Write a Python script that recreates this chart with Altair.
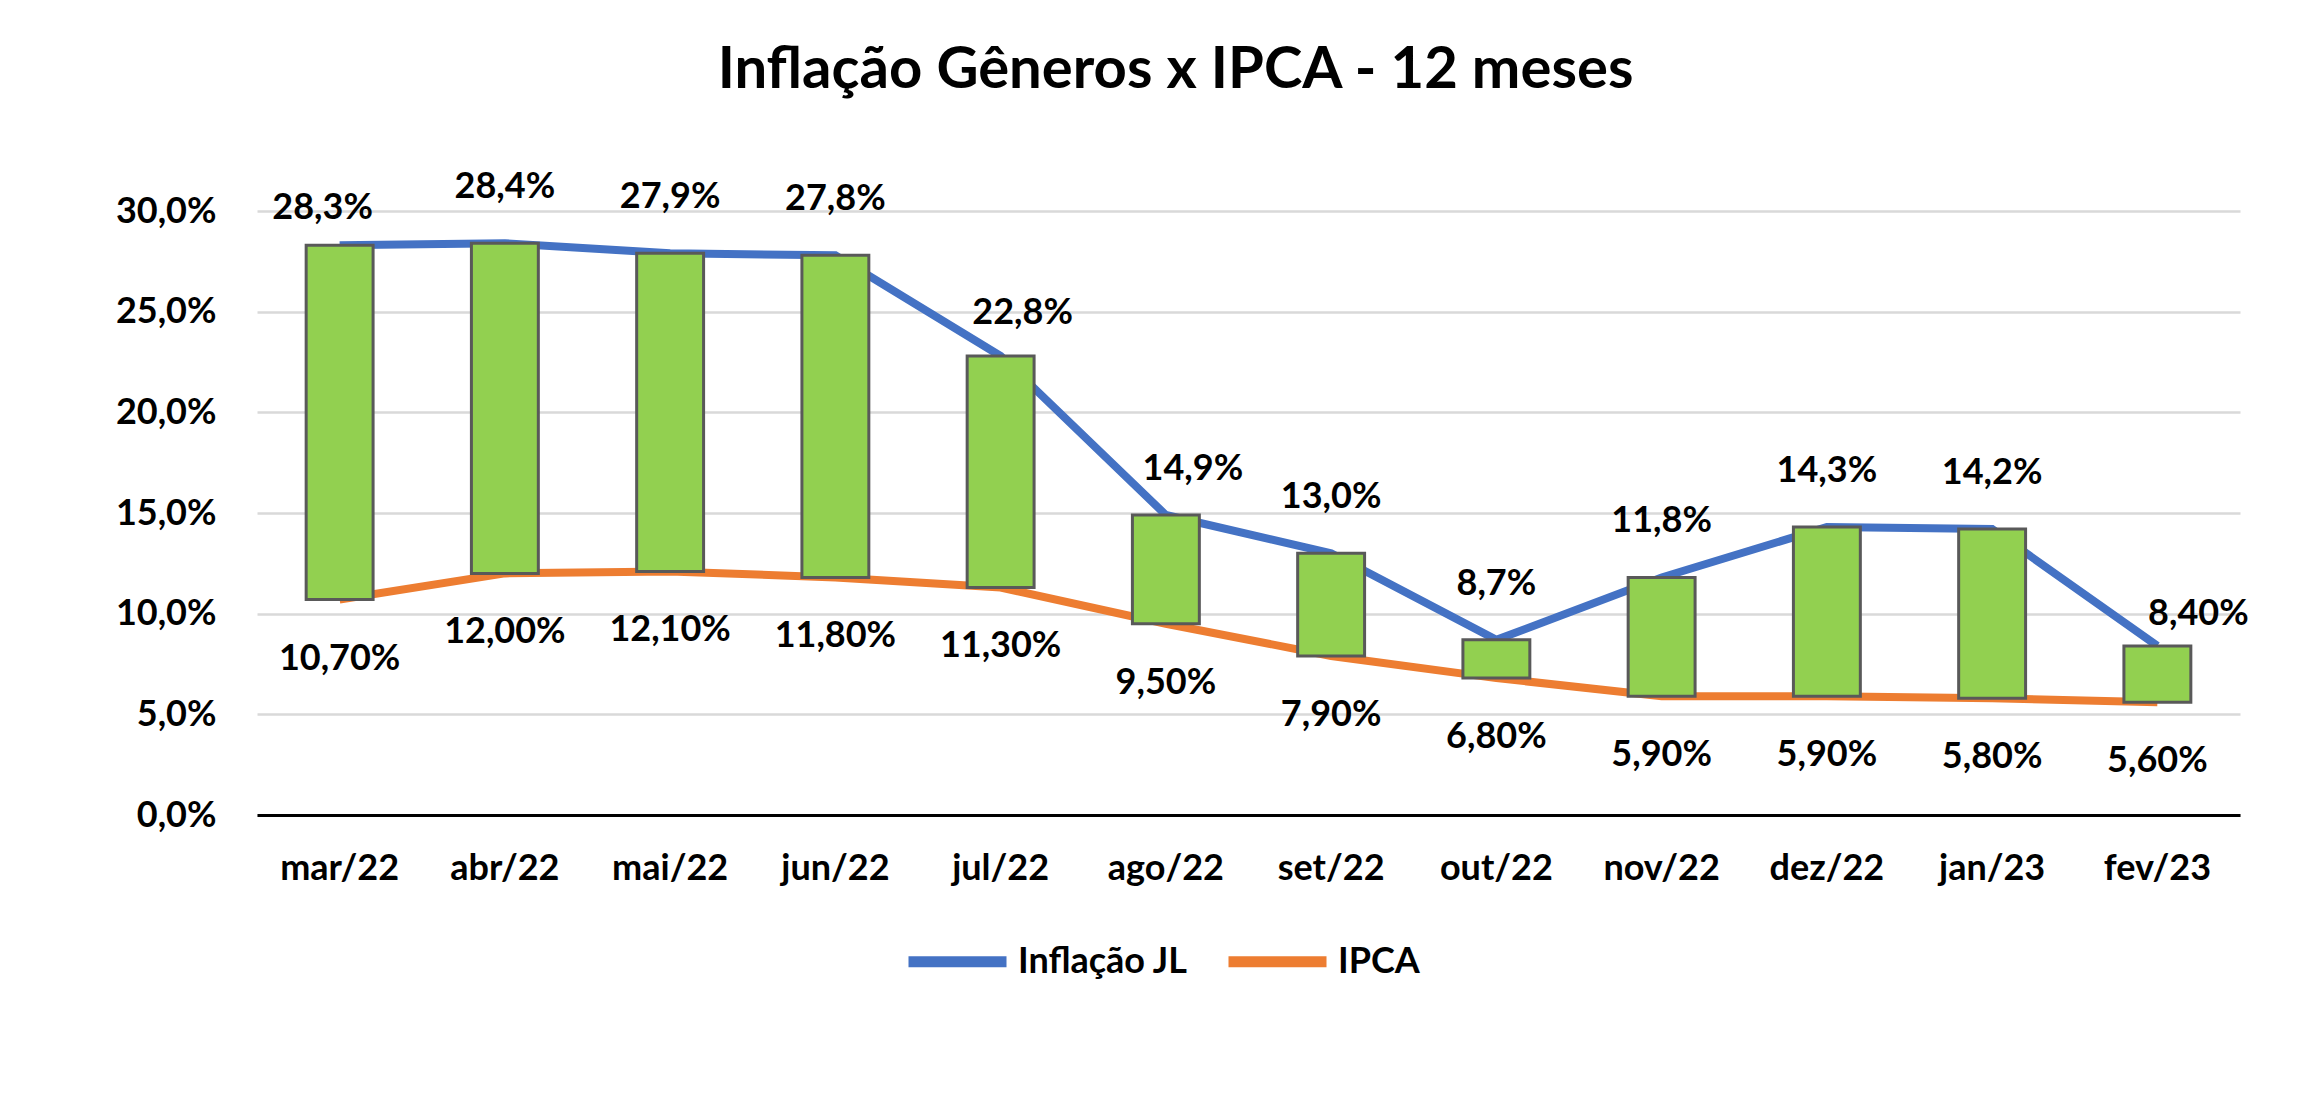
import pandas as pd
import altair as alt

# data (percent units)
months = ["mar/22", "abr/22", "mai/22", "jun/22", "jul/22", "ago/22",
          "set/22", "out/22", "nov/22", "dez/22", "jan/23", "fev/23"]
inflacao_jl = [28.3, 28.4, 27.9, 27.8, 22.8, 14.9, 13.0, 8.7, 11.8, 14.3, 14.2, 8.4]
ipca = [10.7, 12.0, 12.1, 11.8, 11.3, 9.5, 7.9, 6.8, 5.9, 5.9, 5.8, 5.6]
jl_labels = ["28,3%", "28,4%", "27,9%", "27,8%", "22,8%", "14,9%",
             "13,0%", "8,7%", "11,8%", "14,3%", "14,2%", "8,40%"]
ipca_labels = ["10,70%", "12,00%", "12,10%", "11,80%", "11,30%", "9,50%",
               "7,90%", "6,80%", "5,90%", "5,90%", "5,80%", "5,60%"]
series_names = ["Inflação JL", "IPCA"]

FONT = "Lato"
BLUE = "#4472C4"
ORANGE = "#ED7D31"
GREEN = "#92D050"

# a few labels were dragged by hand in the original: month -> (dx, dy)
top_nudge = {"mar/22": (-17, -37), "jul/22": (22, -43),
             "ago/22": (27, -46), "fev/23": (41, -32)}

wide = pd.DataFrame({"mes": months, "jl": inflacao_jl, "ipca": ipca,
                     "jl_txt": jl_labels, "ipca_txt": ipca_labels})
wide["dx"] = [top_nudge.get(m, (0, -56))[0] for m in months]
wide["dy"] = [top_nudge.get(m, (0, -56))[1] for m in months]

long = pd.DataFrame({
    "mes": months * 2,
    "serie": [series_names[0]] * len(months) + [series_names[1]] * len(months),
    "valor": inflacao_jl + ipca,
})

x_enc = alt.X("mes:N", sort=months,
              scale=alt.Scale(paddingInner=0, paddingOuter=0),
              axis=alt.Axis(title=None, labelAngle=0, ticks=False, grid=False,
                            domainColor="black", domainWidth=3, labelPadding=36))
y_axis = alt.Axis(title=None, values=[0, 5, 10, 15, 20, 25, 30],
                  labelExpr="replace(format(datum.value, '.1f'), '.', ',') + '%'",
                  domain=False, ticks=False, grid=True,
                  gridColor="#D9D9D9", gridWidth=2.5, labelPadding=41)
y_scale = alt.Scale(domain=[0, 30], nice=False)

lines = alt.Chart(long).mark_line(strokeWidth=8).encode(
    x=x_enc,
    y=alt.Y("valor:Q", scale=y_scale, axis=y_axis),
    color=alt.Color("serie:N", scale=alt.Scale(domain=series_names, range=[BLUE, ORANGE]),
                    legend=alt.Legend(title=None, orient="none", direction="horizontal",
                                      legendX=646, legendY=696, symbolType="stroke",
                                      symbolStrokeWidth=11, symbolSize=9604,
                                      labelFont=FONT, labelFontSize=36, labelFontWeight="bold",
                                      labelColor="black", labelOffset=6, labelLimit=0,
                                      columnPadding=18, padding=0)),
    detail="serie:N",
)

bars = alt.Chart(wide).mark_bar(color=GREEN, stroke="#595959", strokeWidth=3,
                                width=alt.RelativeBandSize(0.405)).encode(
    x=x_enc,
    y=alt.Y("jl:Q", scale=y_scale, axis=y_axis),
    y2="ipca:Q",
)

top_layers = []
for (dx, dy) in sorted(set(zip(wide["dx"], wide["dy"]))):
    top_layers.append(
        alt.Chart(wide).transform_filter(f"datum.dx == {dx} && datum.dy == {dy}")
        .mark_text(font=FONT, fontSize=36, fontWeight="bold", color="black",
                   baseline="middle", dx=int(dx), dy=int(dy))
        .encode(x=x_enc, y=alt.Y("jl:Q", scale=y_scale, axis=y_axis), text="jl_txt:N")
    )

bottom_text = alt.Chart(wide).mark_text(
    font=FONT, fontSize=36, fontWeight="bold", color="black", baseline="middle", dy=59
).encode(x=x_enc, y=alt.Y("ipca:Q", scale=y_scale, axis=y_axis), text="ipca_txt:N")

chart = alt.layer(lines, bars, *top_layers, bottom_text).properties(
    width=1983,
    height=604,
    title=alt.Title("Inflação Gêneros x IPCA - 12 meses", font=FONT, fontSize=58,
                    fontWeight="bold", color="black", anchor="middle", dx=-73, offset=69),
    autosize=alt.AutoSizeParams(type="none"),
    padding={"left": 249, "top": 203, "right": 70, "bottom": 280},
).configure_view(stroke=None).configure_axis(
    labelFont=FONT, labelFontSize=36, labelFontWeight="bold", labelColor="black"
)

chart.save("out.html", embed_options={"renderer": "svg", "actions": False})
